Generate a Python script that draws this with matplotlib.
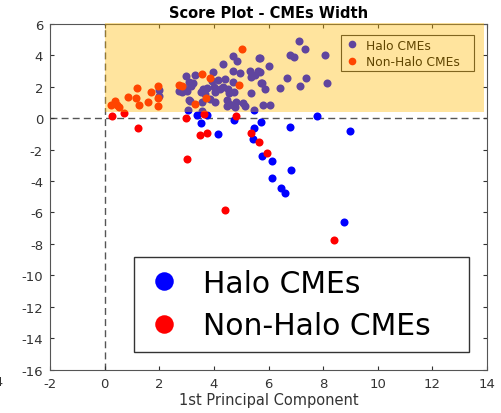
import matplotlib.pyplot as plt
from matplotlib.patches import Rectangle

plt.rcParams['axes.unicode_minus'] = False

# halo CMEs below / near the zero line (blue)
halo_x = [3.39, 3.75, 3.54, 4.14, 4.73, 5.74, 5.47, 5.42, 5.75, 6.13, 6.13,
          6.46, 6.62, 6.84, 6.79, 7.78, 8.97, 8.78]
halo_y = [0.21, 0.21, -0.30, -1.00, -0.15, -0.23, -0.62, -1.33, -2.44, -2.71,
          -3.80, -4.47, -4.79, -3.33, -0.55, 0.15, -0.83, -6.63]

# halo CMEs inside the highlighted area
halo_hl_x = [7.12, 7.35, 6.79, 6.94, 8.05, 5.69, 6.01, 5.69, 6.67, 7.37, 5.75,
             5.88, 6.41, 7.17, 8.13, 6.06, 4.71, 4.86, 5.66, 4.34, 3.98, 4.71,
             4.96, 5.32, 5.62, 5.51, 5.36, 3.32, 2.99, 3.08, 3.25, 3.17, 2.91,
             2.83, 3.03, 3.93, 4.15, 4.42, 4.69, 4.35, 4.23, 4.51, 3.99, 3.76,
             3.61, 3.54, 3.68, 4.05, 4.57, 4.74, 5.74, 5.37, 3.13, 3.58, 3.86,
             4.05, 4.47, 4.57, 4.71, 4.81, 5.06, 5.15, 5.47, 5.79, 3.57, 2.00,
             1.98, 2.74, 3.10, 3.07, 4.47, 4.77]
halo_hl_y = [4.92, 4.39, 4.00, 3.86, 3.98, 3.80, 3.31, 2.90, 2.56, 2.52, 2.22,
             1.84, 1.91, 2.02, 2.22, 0.81, 3.92, 3.64, 3.81, 3.41, 2.90, 2.97,
             2.84, 2.97, 2.97, 2.73, 2.59, 2.75, 2.69, 2.31, 2.22, 2.02, 1.89,
             1.67, 1.74, 2.37, 2.43, 2.48, 2.31, 1.95, 1.84, 1.84, 1.95, 1.89,
             1.84, 1.67, 1.53, 1.63, 1.57, 1.67, 2.24, 1.57, 1.08, 1.00, 1.21,
             1.04, 1.14, 0.89, 0.85, 1.00, 0.93, 0.78, 0.53, 0.85, 0.46, 1.78,
             1.38, 1.70, 1.12, 0.53, 0.74, 0.68]

# non-halo CMEs below / near the zero line (red)
nonhalo_x = [0.28, 0.72, 1.23, 2.99, 3.65, 3.50, 3.76, 3.03, 4.82, 5.35, 5.65,
             5.96, 4.41, 8.40]
nonhalo_y = [0.15, 0.32, -0.65, 0.00, 0.25, -1.06, -0.95, -2.60, 0.13, -0.95,
             -1.53, -2.22, -5.85, -7.78]

# non-halo CMEs inside the highlighted area
nonhalo_hl_x = [0.22, 0.38, 0.47, 0.54, 0.86, 1.18, 1.16, 1.26, 1.58, 1.69,
                1.94, 1.97, 1.97, 2.71, 2.82, 3.32, 3.58, 3.71, 3.86, 4.93, 5.03]
nonhalo_hl_y = [0.83, 1.10, 0.83, 0.68, 1.35, 1.91, 1.25, 0.83, 1.04, 1.65,
                2.02, 1.25, 0.78, 2.10, 2.05, 0.87, 2.80, 1.29, 2.54, 2.12, 4.37]

labels = ['Halo CMEs', 'Non-Halo CMEs']

fig = plt.figure(figsize=(5.01, 4.14), dpi=100)
ax = fig.add_axes([0.0998, 0.1046, 0.8723, 0.8357])

ms = 5.8
ax.axvline(0, color='#555555', lw=1.0, ls=(0, (5, 3)), zorder=1)
ax.axhline(0, color='#555555', lw=1.0, ls=(0, (5, 3)), zorder=1)

h1, = ax.plot(halo_hl_x + halo_x, halo_hl_y + halo_y, 'o', color='blue',
              ms=ms, mew=0, ls='none', zorder=3)
h2, = ax.plot(nonhalo_hl_x + nonhalo_x, nonhalo_hl_y + nonhalo_y, 'o',
              color='red', ms=ms, mew=0, ls='none', zorder=3)

ax.set_xlim(-2, 14)
ax.set_ylim(-16, 6)
ax.set_xticks(range(-2, 15, 2))
ax.set_yticks(range(-16, 7, 2))
ax.tick_params(direction='in', length=3, top=True, right=True,
               labelsize=9.5, colors='#333333', pad=5)
for sp in ax.spines.values():
    sp.set_color('#555555')

ax.set_title('Score Plot - CMEs Width', fontsize=10.5, fontweight='bold',
             pad=5)
ax.set_xlabel('1st Principal Component', fontsize=10.5, color='#333333',
              labelpad=2)

# small legend (ends up under the highlight)
small = ax.legend([h1, h2], labels, loc='lower left', mode='expand',
                  bbox_to_anchor=(0.665, 0.862, 0.305, 0.099),
                  borderaxespad=0, fontsize=8.8, handlelength=1.2,
                  handletextpad=0.56, borderpad=0.3, labelspacing=0.25,
                  fancybox=False, edgecolor='#333333', framealpha=1,
                  markerscale=0.95)
small.get_frame().set_linewidth(0.8)
ax.add_artist(small)

# translucent highlight box over the upper part
ax.add_patch(Rectangle((0.02, 0.36), 13.88, 5.7, facecolor=(1.0, 0.72, 0.0),
                       alpha=0.38, edgecolor='none', zorder=6, clip_on=False))

big = ax.legend([h1, h2], labels, loc='lower left', mode='expand',
                bbox_to_anchor=(0.192, 0.051, 0.767, 0.263),
                borderaxespad=0, fontsize=21.5, handlelength=1.2,
                handletextpad=0.72, borderpad=0.4, labelspacing=0.45,
                fancybox=False, edgecolor='#333333', framealpha=1,
                markerscale=2.3)
big.get_frame().set_linewidth(1.0)
big.set_zorder(7)

# clipped tick label left over at the figure's left edge
fig.text(0.006, 0.075, '-4', ha='right', va='center', fontsize=9.5,
         color='#333333')

fig.savefig('out.png', dpi=100)
